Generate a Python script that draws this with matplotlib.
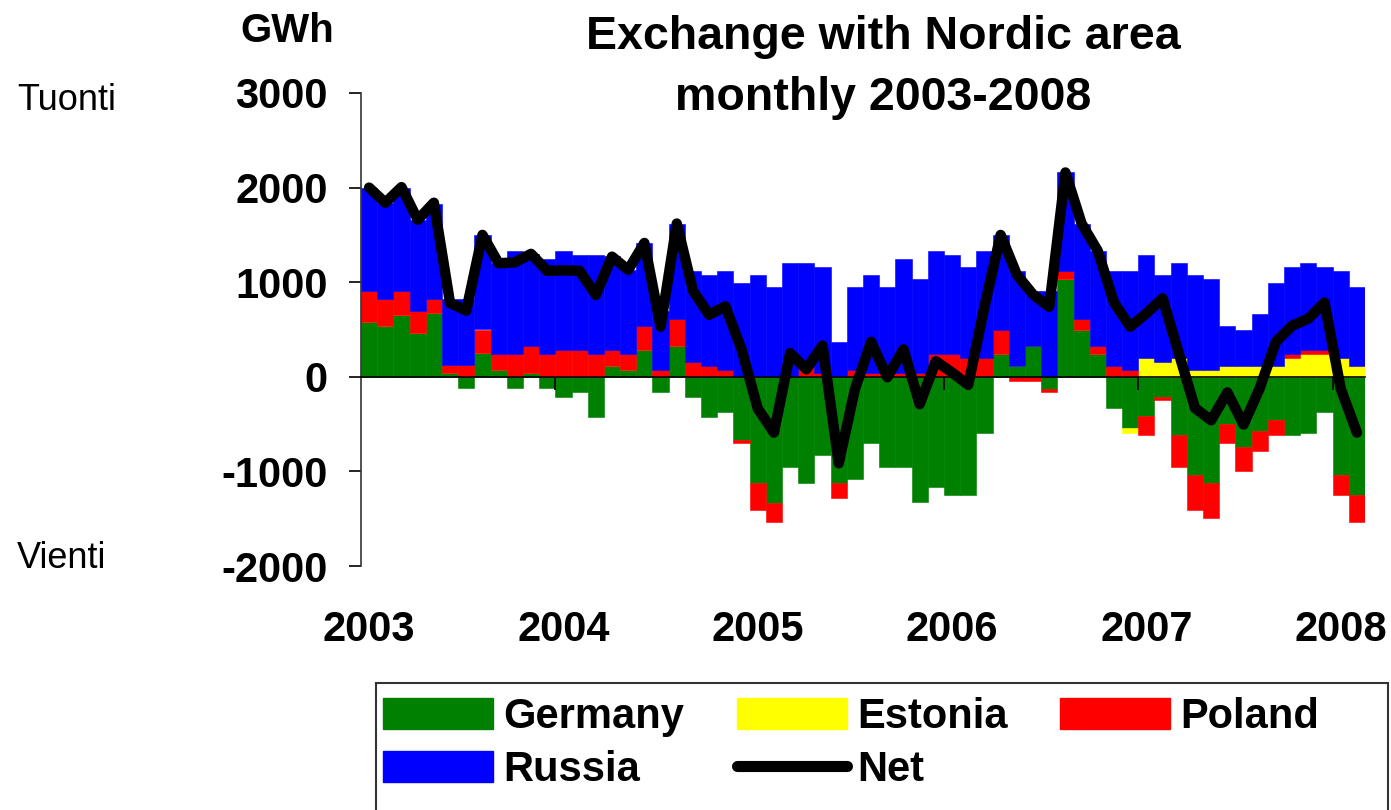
import matplotlib
matplotlib.use('Agg')
import matplotlib.pyplot as plt
import numpy as np
from matplotlib.patches import Patch, Rectangle
from matplotlib.lines import Line2D

plt.rcParams['font.family'] = ['Liberation Sans', 'DejaVu Sans']
plt.rcParams['axes.unicode_minus'] = False

# monthly exchange, GWh, Jan 2003 .. Feb 2008 (+ import, - export)
years = ['2003', '2004', '2005', '2006', '2007', '2008']
germany = [580, 540, 650, 460, 670, 40, -120, 250, 75, -120, 35, -120,
           -210, -165, -420, 115, 75, 285, -165, 330, -210, -420, -375, -665,
           -1125, -1330, -955, -1125, -830, -1125, -1080, -705, -955, -955, -1325, -1165,
           -1245, -1245, -590, 245, 115, 330, -125, 1035, 495, 245, -335, -540,
           -410, -210, -620, -1035, -1125, -495, -745, -575, -455, -620, -590, -375,
           -1035, -1245]
estonia = [0] * 47 + [-50,
           200, 160, 200, 75, 75, 115, 115, 115, 115, 200, 245, 245,
           200, 115]
poland = [330, 280, 260, 240, 150, 90, 120, 250, 170, 245, 295, 245,
          285, 285, 245, 170, 170, 255, 75, 280, 160, 115, 75, -40,
          -285, -210, 0, 115, 40, -160, 75, 40, 40, 40, 40, 245,
          245, 195, 195, 250, -40, -40, -40, 85, 115, 85, 115, 75,
          -210, -40, -335, -375, -370, -210, -255, -210, -165, 45, 40, 40,
          -210, -295]
russia = [1085, 1020, 1090, 960, 1010, 690, 700, 1000, 955, 1090, 970, 1000,
          1050, 1000, 1040, 990, 880, 875, 620, 1010, 960, 960, 1045, 995,
          1075, 950, 1205, 1090, 1120, 370, 875, 1035, 910, 1205, 995, 1085,
          1045, 965, 1135, 1005, 1005, 580, 905, 1040, 1010, 1000, 1005, 1045,
          1090, 920, 1005, 1005, 960, 425, 380, 550, 875, 915, 920, 875,
          920, 835]
net = [2000, 1840, 2005, 1660, 1840, 780, 700, 1500, 1200, 1210, 1300, 1120,
       1125, 1120, 865, 1270, 1130, 1415, 530, 1620, 910, 655, 745, 290,
       -335, -590, 250, 80, 330, -915, -130, 370, -5, 290, -290, 165,
       45, -85, 740, 1500, 1080, 870, 740, 2160, 1620, 1330, 785, 530,
       670, 830, 250, -330, -460, -165, -505, -120, 370, 540, 615, 785,
       -125, -590]

series = [('Germany', germany, '#008000'),
          ('Estonia', estonia, '#FFFF00'),
          ('Poland', poland, '#FF0000'),
          ('Russia', russia, '#0000FF')]

W, H = 1391, 810
fig = plt.figure(figsize=(W / 100, H / 100), dpi=100)
ax = fig.add_axes([361 / W, 1 - 566 / H, (1365 - 361) / W, (566 - 93) / H])

x = np.arange(len(net))
pos_base = np.zeros(len(x))
neg_base = np.zeros(len(x))
for name, vals, col in series:
    v = np.array(vals, dtype=float)
    bottom = np.where(v >= 0, pos_base, neg_base)
    ax.bar(x, v, width=1.0, bottom=bottom, color=col, edgecolor=col,
           linewidth=0.4, zorder=1)
    pos_base += np.where(v > 0, v, 0)
    neg_base += np.where(v < 0, v, 0)

ax.plot(x, net, color='black', lw=7.5, solid_joinstyle='round',
        solid_capstyle='round', zorder=4)

ax.set_xlim(-0.5, len(x) - 0.5)
ax.set_ylim(-2000, 3000)
ax.set_yticks(np.arange(-2000, 3001, 1000))

for s in ['top', 'right']:
    ax.spines[s].set_visible(False)
ax.spines['bottom'].set_position(('data', 0))
ax.spines['bottom'].set_linewidth(1.2)
ax.spines['bottom'].set_zorder(3)
ax.spines['left'].set_linewidth(1.2)
ax.spines['left'].set_color('#333333')

ax.set_xticks(np.arange(0, len(x), 12))
ax.set_xticklabels(years)
ax.set_xticks(np.arange(11.5, len(x), 12), minor=True)
ax.tick_params(axis='x', which='major', length=0, pad=168, labelsize=30)
ax.tick_params(axis='x', which='minor', length=9, width=1.2, direction='out')
ax.tick_params(axis='y', length=9, width=1.2, pad=15, labelsize=30)
for lab in ax.get_xticklabels() + ax.get_yticklabels():
    lab.set_fontweight('bold')

fig.text(287 / W, 1 - 31 / H, 'GWh', ha='center', va='center',
         fontsize=29, fontweight='bold')
fig.text(17 / W, 1 - 101 / H, 'Tuonti', ha='left', va='center', fontsize=26)
fig.text(17 / W, 1 - 558 / H, 'Vienti', ha='left', va='center', fontsize=26)
fig.text(883 / W, 1 - 37 / H, 'Exchange with Nordic area', ha='center',
         va='center', fontsize=33.5, fontweight='bold')
fig.text(883 / W, 1 - 98 / H, 'monthly 2003-2008', ha='center',
         va='center', fontsize=33.5, fontweight='bold')

# legend frame box
fig.add_artist(Rectangle((376 / W, -0.01), (1388 - 376) / W, 0.01 + 1 - 683 / H,
                         transform=fig.transFigure, fill=False,
                         edgecolor='#333333', linewidth=1.5))

# legend in Excel order, rows: Germany/Estonia/Poland, Russia/Net
handles = [Patch(color='#008000'), Patch(color='#0000FF'),
           Patch(color='#FFFF00'), Line2D([], [], color='black', lw=8, solid_capstyle='round'),
           Patch(color='#FF0000')]
labels = ['Germany', 'Russia', 'Estonia', 'Net', 'Poland']
fig.legend(handles, labels, ncol=3, loc='upper left',
           bbox_to_anchor=(383 / W, 1 - 697 / H),
           frameon=False, prop={'size': 30, 'weight': 'bold'},
           handlelength=2.64, handleheight=0.77, handletextpad=0.24,
           borderpad=0, labelspacing=0.32, columnspacing=1.27,
           borderaxespad=0)

fig.savefig('out.png', dpi=100)
